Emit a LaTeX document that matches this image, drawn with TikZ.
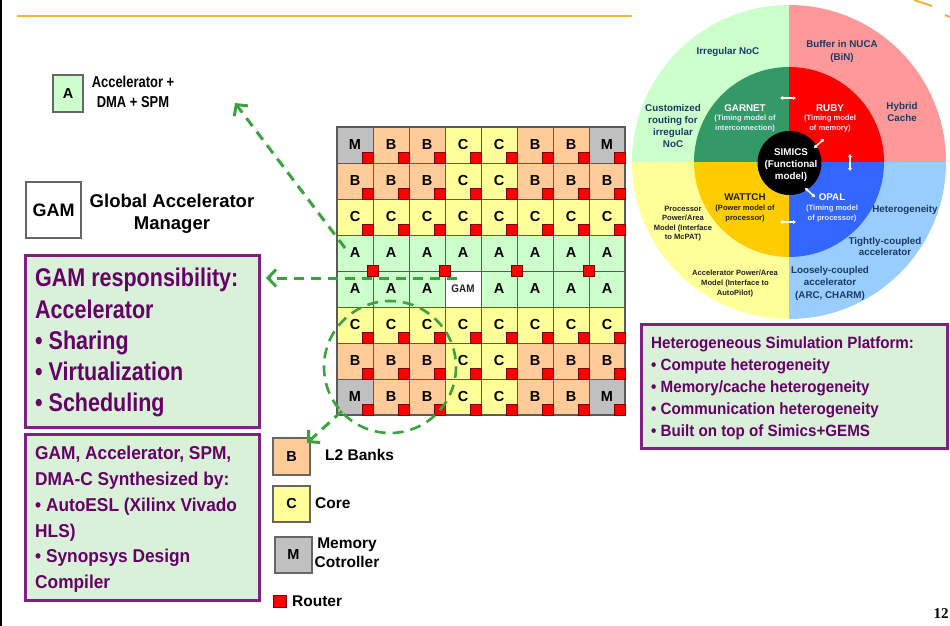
\documentclass[tikz,border=0pt]{standalone}
\usepackage{fontspec}
\setmainfont{Liberation Sans}
\newfontfamily\narrowfont[FakeStretch=0.82]{Liberation Sans}
\newfontfamily\respfont[FakeStretch=0.84]{Liberation Sans}
\newfontfamily\boxfont[FakeStretch=0.93]{Liberation Sans}
\newfontfamily\gamfont[FakeStretch=0.9]{Liberation Sans}
\newfontfamily\numfont{Liberation Serif}
\usetikzlibrary{arrows.meta}

% tile and ring colours
\definecolor{fillM}{HTML}{C0C0C0}
\definecolor{fillB}{HTML}{FFCC99}
\definecolor{fillC}{HTML}{FFFF99}
\definecolor{fillA}{HTML}{CCFFCC}
\definecolor{fillGAM}{HTML}{FFFFFF}
\definecolor{gridline}{HTML}{5A5A5A}
\definecolor{routerred}{HTML}{FF0000}
\definecolor{routeredge}{HTML}{7A0000}
\definecolor{greenD}{HTML}{3BA33B}
\definecolor{purpleB}{HTML}{7F2180}
\definecolor{purpleT}{HTML}{660066}
\definecolor{boxfill}{HTML}{D9F1D9}
\definecolor{navy}{HTML}{1B3A66}
\definecolor{orangeline}{HTML}{F2B233}
\definecolor{ringTL}{HTML}{CCFFCC}
\definecolor{ringTR}{HTML}{FF9999}
\definecolor{ringBL}{HTML}{FFFF99}
\definecolor{ringBR}{HTML}{99CCFF}
\definecolor{coreTL}{HTML}{339966}
\definecolor{coreTR}{HTML}{FF0000}
\definecolor{coreBL}{HTML}{FFCC00}
\definecolor{coreBR}{HTML}{3366FF}
\definecolor{darktxt}{HTML}{222222}
\definecolor{paletxt}{HTML}{E4EAFF}

\begin{document}
\begin{tikzpicture}[x=1pt,y=-1pt,
  cell/.style={draw=gridline, line width=0.9pt, minimum width=36pt, minimum height=36pt,
    inner sep=0pt, outer sep=0pt, font=\bfseries\fontsize{14.5}{16}\selectfont},
  router/.style={fill=routerred, draw=routeredge, line width=0.4pt, minimum size=11pt,
    inner sep=0pt, outer sep=0pt},
  legendbox/.style={draw=gray!80!black, line width=1.2pt, inner sep=0pt,
    font=\bfseries\fontsize{14.5}{16}\selectfont},
  legendtext/.style={font=\bfseries\fontsize{15.5}{19}\selectfont, inner sep=0pt, align=center},
  purplebox/.style={draw=purpleB, fill=boxfill, line width=2.5pt, inner sep=0pt, anchor=north west},
  purpletext/.style={text=purpleT, align=left, inner sep=0pt, anchor=north west},
  greenarrow/.style={draw=greenD, line width=3pt, dash pattern=on 10pt off 7pt,
    -{Straight Barb[length=8pt,width=17pt,line width=3pt]}},
  ringlbl/.style={text=navy, align=center, inner sep=0pt,
    font=\bfseries\fontsize{9.8}{#1}\selectfont},
  sublbl/.style={align=center, inner sep=0pt, font=\bfseries\fontsize{7.6}{#1}\selectfont},
  linkarrow/.style={draw=white, line width=1.5pt,
    {Latex[length=3pt,width=4.5pt]}-{Latex[length=3pt,width=4.5pt]}}
]
\useasboundingbox (0,0) rectangle (950,626);
\fill[white] (0,0) rectangle (950,626);

% slide frame: left rule, title rule and corner mark
\draw[line width=2pt] (1,0) -- (1,626);
\draw[orangeline, line width=2.5pt] (17,16) -- (632,16);
\draw[orangeline, line width=2pt] (914,0) -- (932,6);
\draw[orangeline, line width=2pt] (945,15) -- (950,17);

% ---------------- 8x8 tiled chip ----------------
\foreach \rowlist [count=\r] in {{M,B,B,C,C,B,B,M},{B,B,B,C,C,B,B,B},{C,C,C,C,C,C,C,C},
    {A,A,A,A,A,A,A,A},{A,A,A,GAM,A,A,A,A},{C,C,C,C,C,C,C,C},{B,B,B,C,C,B,B,B},{M,B,B,C,C,B,B,M}}{
  \foreach \t [count=\c] in \rowlist {
    \node[cell, fill=fill\t] (g\r-\c) at ({337+36*\c-18},{127+36*\r-18})
      {\ifnum\r=5 \ifnum\c=4 \gamfont\fontsize{11}{12}\selectfont\color{darktxt}\fi\fi\t};
  }
}
\draw[gridline, line width=1.1pt] (g1-1.north west) rectangle (g8-8.south east);
% routers in the corner of every tile
\foreach \r in {1,2,3,6,7,8}{
  \foreach \c in {1,...,8}{
    \node[router, anchor=south east] (rt\r-\c) at (g\r-\c.south east) {};
  }
}
% routers shared by the accelerator rows
\foreach \c in {1,3,5,7}{
  \node[router] (rt4-\c) at (g4-\c.south east) {};
}

% ---------------- legends ----------------
\node[legendbox, fill=fillA, minimum width=30pt, minimum height=37pt] (legA) at (68,93.5) {A};
\node[legendtext, font=\narrowfont\bfseries\fontsize{15.8}{20}\selectfont] (legAt) at (133,92)
  {Accelerator +\\DMA + SPM};

\node[legendbox, fill=white, minimum width=55pt, minimum height=56pt,
  font=\bfseries\fontsize{18}{20}\selectfont] (legG) at (53.5,210) {GAM};
\node[legendtext, font=\bfseries\fontsize{18.5}{22}\selectfont] (legGt) at (172,214)
  {Global Accelerator\\Manager};

\node[legendbox, fill=fillB, minimum width=37pt, minimum height=37pt] (legB) at (291.5,456.5) {B};
\node[legendtext, anchor=west] (legBt) at (325,455) {L2 Banks};
\node[legendbox, fill=fillC, minimum width=37pt, minimum height=36pt] (legC) at (291.5,504) {C};
\node[legendtext, anchor=west] (legCt) at (315,503) {Core};
\node[legendbox, fill=fillM, minimum width=37pt, minimum height=36pt] (legM) at (293.5,555) {M};
\node[legendtext, font=\bfseries\fontsize{15.5}{19}\selectfont] (legMt) at (347,553) {Memory\\Cotroller};
\node[router, minimum width=13pt, minimum height=12pt] (legR) at (279.5,601) {};
\node[legendtext, anchor=west] (legRt) at (292,601) {Router};

% ---------------- text boxes ----------------
\node[purplebox, minimum width=234pt, minimum height=172pt] (resp) at (24,254) {};
\node[purpletext, font=\respfont\bfseries\fontsize{25.6}{31.3}\selectfont] (respt) at (35,268)
  {GAM responsibility:\\Accelerator\\• Sharing\\• Virtualization\\• Scheduling};

\node[purplebox, minimum width=234pt, minimum height=166pt] (synth) at (24,433) {};
\node[purpletext, font=\boxfont\bfseries\fontsize{18.6}{25.8}\selectfont] (syntht) at (35,446)
  {GAM, Accelerator, SPM,\\DMA-C Synthesized by:\\• AutoESL (Xilinx Vivado\\HLS)\\• Synopsys Design\\Compiler};

\node[purplebox, minimum width=306pt, minimum height=124pt] (hsp) at (640,323) {};
\node[purpletext, font=\boxfont\bfseries\fontsize{16.3}{22}\selectfont] (hspt) at (651,336)
  {Heterogeneous Simulation Platform:\\• Compute heterogeneity\\• Memory/cache heterogeneity\\• Communication heterogeneity\\• Built on top of Simics+GEMS};

% ---------------- simulator wheel ----------------
\coordinate (wc) at (789,162);
\fill[ringTL] (wc) -- ++(-157,0) arc[start angle=180, end angle=270, radius=157] -- cycle;
\fill[ringTR] (wc) -- ++(0,-157) arc[start angle=270, end angle=360, radius=157] -- cycle;
\fill[ringBR] (wc) -- ++(157,0) arc[start angle=0, end angle=90, radius=157] -- cycle;
\fill[ringBL] (wc) -- ++(0,157) arc[start angle=90, end angle=180, radius=157] -- cycle;
\fill[coreTL] (wc) -- ++(-95,0) arc[start angle=180, end angle=270, radius=95] -- cycle;
\fill[coreTR] (wc) -- ++(0,-95) arc[start angle=270, end angle=360, radius=95] -- cycle;
\fill[coreBR] (wc) -- ++(95,0) arc[start angle=0, end angle=90, radius=95] -- cycle;
\fill[coreBL] (wc) -- ++(0,95) arc[start angle=90, end angle=180, radius=95] -- cycle;
\fill[black] (789.5,163) circle[radius=32];

\node[ringlbl=12] (irr) at (728,52) {Irregular NoC};
\node[ringlbl=12.5] (bin) at (842,51.5) {Buffer in NUCA\\(BiN)};
\node[ringlbl=12] (cust) at (673,126) {Customized\\routing for\\irregular\\NoC};
\node[ringlbl=12] (hyb) at (902,112) {Hybrid\\Cache};
\node[ringlbl=12, text=white] (garnet) at (745,108) {GARNET};
\node[sublbl=10, text=paletxt] (garnets) at (745,123.5) {(Timing model of\\interconnection)};
\node[ringlbl=12, text=white] (ruby) at (830,108) {RUBY};
\node[sublbl=10, text=paletxt] (rubys) at (830,123.5) {(Timing model\\of memory)};
\node[ringlbl=12, text=white] (simics) at (791,165) {SIMICS\\(Functional\\model)};
\node[ringlbl=12, text=darktxt] (wattch) at (745,197) {WATTCH};
\node[sublbl=10, text=darktxt] (wattchs) at (745,213.5) {(Power model of\\processor)};
\node[ringlbl=12, text=white] (opal) at (832,197) {OPAL};
\node[sublbl=10, text=paletxt] (opals) at (832,213.5) {(Timing model\\of processor)};
\node[sublbl=9.4, text=darktxt] (procpa) at (683,223.5) {Processor\\Power/Area\\Model (Interface\\to McPAT)};
\node[ringlbl=12] (het) at (905,210) {Heterogeneity};
\node[ringlbl=11.5] (tight) at (885,246.5) {Tightly-coupled\\accelerator};
\node[sublbl=10, text=darktxt] (accpa) at (735,283.5) {Accelerator Power/Area\\Model (Interface to\\AutoPilot)};
\node[ringlbl=12.5] (loose) at (830,283) {Loosely-coupled\\accelerator\\(ARC, CHARM)};

% links between the simulator modules
\draw[linkarrow] (780,98) -- (796,98);
\draw[linkarrow] (814,148) -- (824,139);
\draw[linkarrow] (850,154) -- (850,171);
\draw[linkarrow] (805,188) -- (815,197);
\draw[linkarrow] (780,222) -- (796,222);

% ---------------- dashed call-outs ----------------
\coordinate (accsrc) at (345,248);
\coordinate (acctip) at (235,103);
\coordinate (gamsrc) at (457,278);
\coordinate (gamtip) at (266,278);
\coordinate (ringsrc) at (342,411);
\coordinate (ringtip) at (307,443);
\coordinate (ringc) at (390,367);
\draw[greenarrow] (accsrc) -- (acctip);
\draw[greenarrow] (gamsrc) -- (gamtip);
\draw[draw=greenD, line width=2.6pt, dash pattern=on 11pt off 7pt] (ringc) circle[radius=66];
\draw[greenarrow] (ringsrc) -- (ringtip);

% page number
\node[font=\numfont\bfseries\fontsize{15}{18}\selectfont, inner sep=0pt] (pg) at (941,614) {12};
\end{tikzpicture}
\end{document}
